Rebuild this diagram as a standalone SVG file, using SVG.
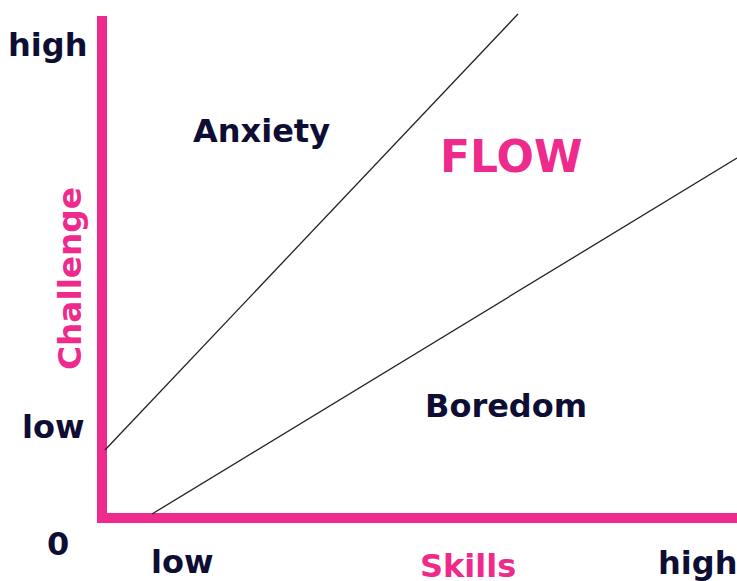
<svg xmlns="http://www.w3.org/2000/svg" width="737" height="581" viewBox="0 0 737 581">
  <style>
    .lbl { font-family: "DejaVu Sans", Verdana, sans-serif; font-weight: bold; font-size: 32px; fill: #0e0e35; }
    .pink { fill: #ee2a8c; }
    .axis { stroke: #ee2a8c; stroke-width: 10; fill: none; }
    .bound { stroke: #222; stroke-width: 1.3; fill: none; }
  </style>
  <rect width="737" height="581" fill="#ffffff"/>

  <g id="axes">
    <path class="axis" d="M102 16 V518 H737"/>
  </g>

  <g id="connectors">
    <line class="bound" x1="105" y1="450" x2="518" y2="14"/>
    <line class="bound" x1="152" y1="514" x2="737" y2="158"/>
  </g>

  <g id="y-labels">
    <text class="lbl" x="8" y="56">high</text>
    <text class="lbl" x="22" y="438">low</text>
    <text class="lbl pink" transform="translate(81 370) rotate(-90)" textLength="183" lengthAdjust="spacingAndGlyphs">Challenge</text>
  </g>

  <g id="x-labels">
    <text class="lbl" x="47" y="555">0</text>
    <text class="lbl" x="151" y="573">low</text>
    <text class="lbl pink" x="420" y="577">Skills</text>
    <text class="lbl" x="658" y="574">high</text>
  </g>

  <g id="regions">
    <text class="lbl" x="193" y="142">Anxiety</text>
    <text class="lbl pink" x="440" y="172" style="font-size:44px">FLOW</text>
    <text class="lbl" x="425" y="417">Boredom</text>
  </g>
</svg>
